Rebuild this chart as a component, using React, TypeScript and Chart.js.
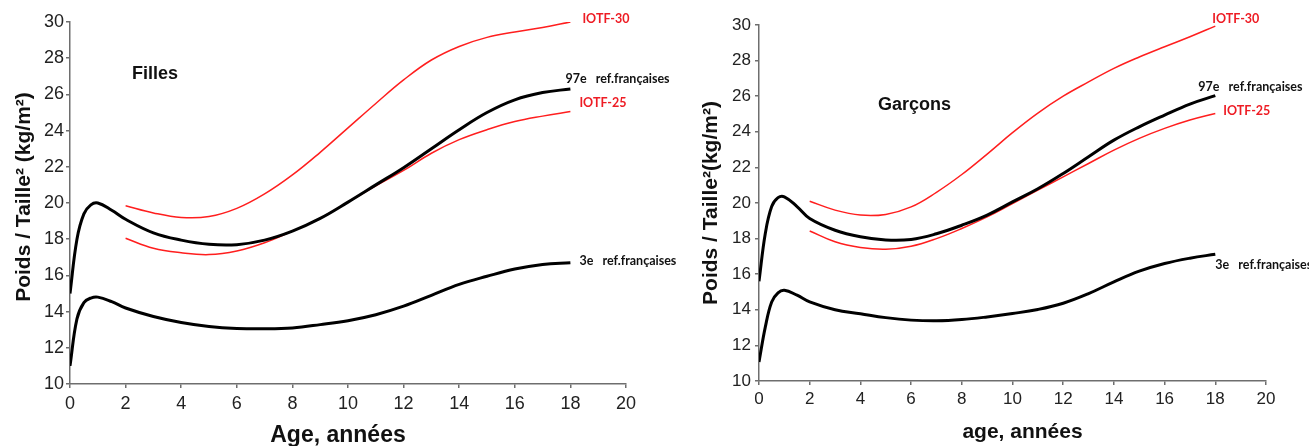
import React, { useEffect, useRef } from "react";
import { Chart, registerables } from "chart.js";

Chart.register(...registerables);

// ---- data ----
const agesRef = [0, 0.25, 0.5, 0.75, 1, 1.5, 2, 3, 4, 5, 6, 7, 8, 9, 10, 11, 12, 13, 14, 15, 16, 17, 18];
const agesIotf = [2, 3, 4, 5, 6, 7, 8, 9, 10, 11, 12, 13, 14, 15, 16, 17, 18];

const fillesP97 = [15.0, 18.0, 19.4, 19.9, 20.0, 19.6, 19.1, 18.35, 17.95, 17.72, 17.7, 17.95, 18.45, 19.15, 20.05, 21.0, 21.95, 23.0, 24.05, 25.0, 25.7, 26.1, 26.3];
const fillesP3 = [11.0, 13.6, 14.5, 14.75, 14.8, 14.55, 14.2, 13.73, 13.4, 13.18, 13.07, 13.05, 13.1, 13.28, 13.5, 13.83, 14.3, 14.9, 15.5, 15.95, 16.35, 16.6, 16.7];
const fillesIotf30 = [19.85, 19.45, 19.2, 19.25, 19.7, 20.5, 21.55, 22.8, 24.15, 25.5, 26.8, 27.9, 28.65, 29.15, 29.45, 29.7, 30.0];
const fillesIotf25 = [18.05, 17.5, 17.25, 17.15, 17.35, 17.8, 18.45, 19.15, 20.05, 20.95, 21.8, 22.75, 23.5, 24.05, 24.5, 24.8, 25.05];

const garconsP97 = [15.6, 18.3, 19.8, 20.3, 20.35, 19.8, 19.13, 18.47, 18.1, 17.92, 17.95, 18.27, 18.75, 19.32, 20.06, 20.8, 21.66, 22.6, 23.53, 24.28, 24.94, 25.56, 26.03];
const garconsP3 = [11.07, 13.04, 14.44, 14.95, 15.1, 14.82, 14.44, 14.0, 13.78, 13.56, 13.42, 13.38, 13.45, 13.6, 13.79, 14.02, 14.37, 14.91, 15.57, 16.17, 16.6, 16.9, 17.12];
const garconsIotf30 = [20.1, 19.6, 19.32, 19.36, 19.78, 20.6, 21.6, 22.75, 23.95, 25.05, 26.0, 26.8, 27.56, 28.2, 28.78, 29.34, 29.94];
const garconsIotf25 = [18.43, 17.82, 17.5, 17.4, 17.57, 18.0, 18.57, 19.22, 19.97, 20.72, 21.47, 22.22, 22.97, 23.63, 24.19, 24.66, 25.03];

const seriesLabels = ["IOTF-30", "97e   ref.françaises", "IOTF-25", "3e   ref.françaises"];
const xMin = 0, xMax = 20, xStep = 2;
const yMin = 10, yMax = 30, yStep = 2;

const RED = "#ff1e1e";
const BLACK = "#000000";

const toPoints = (xs: number[], ys: number[]) => xs.map((x, i) => ({ x, y: ys[i] }));

type PanelSpec = {
  title: string;
  titleDx: number;
  titleY: number;
  titleSize: number;
  yTitle: string;
  yTitleX: number;
  yTitleDy: number;
  yTitleSize: number;
  xTitle: string;
  xTitleDx: number;
  xTitleY: number;
  xTitleSize: number;
  labelOffsets: number[][];
  tickSize: number;
  yAxisWidth: number;
  xAxisHeight: number;
  pad: { top: number; right: number };
  yTickPad: number;
  xTickPad: number;
  series: number[][];
};

const makeTextPlugin = (spec: PanelSpec) => ({
  id: "panelTexts",
  afterDraw(chart: any) {
    const ctx = chart.ctx as CanvasRenderingContext2D;
    const a = chart.chartArea;
    const xs = chart.scales.x;
    const ys = chart.scales.y;
    ctx.save();
    chart.data.datasets.forEach((ds: any, i: number) => {
      const last = ds.data[ds.data.length - 1];
      const px = xs.getPixelForValue(last.x);
      const py = ys.getPixelForValue(last.y);
      const off = spec.labelOffsets[i];
      ctx.font = 'bold 12.5px Lato, "Open Sans", sans-serif';
      ctx.fillStyle = ds.borderColor === RED ? "#ee1c24" : "#111";
      ctx.textAlign = "left";
      ctx.textBaseline = "middle";
      ctx.fillText(ds.label, px + off[0], py + off[1]);
    });
    // panel title
    ctx.fillStyle = "#111";
    ctx.font = `bold ${spec.titleSize}px "Liberation Sans", Arial, sans-serif`;
    ctx.textAlign = "left";
    ctx.textBaseline = "middle";
    ctx.fillText(spec.title, a.left + spec.titleDx, spec.titleY);
    // x title
    ctx.font = `bold ${spec.xTitleSize}px "Liberation Sans", Arial, sans-serif`;
    ctx.textAlign = "center";
    ctx.fillText(spec.xTitle, (a.left + a.right) / 2 + spec.xTitleDx, spec.xTitleY);
    // y title
    ctx.translate(spec.yTitleX, (a.top + a.bottom) / 2 + spec.yTitleDy);
    ctx.rotate(-Math.PI / 2);
    ctx.font = `bold ${spec.yTitleSize}px "Liberation Sans", Arial, sans-serif`;
    ctx.fillText(spec.yTitle, 0, 0);
    ctx.restore();
  },
});

const buildChart = (canvas: HTMLCanvasElement, spec: PanelSpec) => {
  const [iotf30, p97, iotf25, p3] = spec.series;
  const datasets = [
    { label: seriesLabels[0], data: toPoints(agesIotf, iotf30), borderColor: RED, borderWidth: 1.5 },
    { label: seriesLabels[1], data: toPoints(agesRef, p97), borderColor: BLACK, borderWidth: 3 },
    { label: seriesLabels[2], data: toPoints(agesIotf, iotf25), borderColor: RED, borderWidth: 1.5 },
    { label: seriesLabels[3], data: toPoints(agesRef, p3), borderColor: BLACK, borderWidth: 3 },
  ].map((d) => ({ ...d, pointRadius: 0, fill: false, tension: 0.4 }));

  const tickFont = { family: '"Liberation Sans", Arial, sans-serif', size: spec.tickSize };
  const axisColor = "#6e6e6e";

  return new Chart(canvas, {
    type: "line",
    data: { datasets },
    plugins: [makeTextPlugin(spec)],
    options: {
      animation: false,
      responsive: false,
      devicePixelRatio: 1,
      layout: { padding: { top: spec.pad.top, right: spec.pad.right, left: 0, bottom: 0 } },
      plugins: { legend: { display: false }, tooltip: { enabled: false }, title: { display: false } },
      scales: {
        x: {
          type: "linear",
          min: xMin,
          max: xMax,
          ticks: { stepSize: xStep, color: "#222", font: tickFont, padding: spec.xTickPad, maxRotation: 0 },
          grid: { display: true, drawOnChartArea: false, drawTicks: true, tickLength: 4, color: axisColor, lineWidth: 1.5 },
          border: { display: true, color: axisColor, width: 1.5 },
          afterFit: (s: any) => { s.height = spec.xAxisHeight; },
        },
        y: {
          type: "linear",
          min: yMin,
          max: yMax,
          ticks: { stepSize: yStep, color: "#222", font: tickFont, padding: spec.yTickPad },
          grid: { display: true, drawOnChartArea: false, drawTicks: true, tickLength: 4, color: axisColor, lineWidth: 1.5 },
          border: { display: true, color: axisColor, width: 1.5 },
          afterFit: (s: any) => { s.width = spec.yAxisWidth; },
        },
      },
    },
  });
};

const fillesSpec: PanelSpec = {
  title: "Filles",
  titleDx: 62,
  titleY: 74,
  titleSize: 18,
  yTitle: "Poids / Taille² (kg/m²)",
  yTitleX: 24,
  yTitleDy: -6,
  yTitleSize: 21,
  xTitle: "Age, années",
  xTitleDx: -10,
  xTitleY: 436,
  xTitleSize: 23,
  labelOffsets: [[12, -3.5], [-5, -10], [9, -9], [9, -2]],
  tickSize: 18,
  yAxisWidth: 70,
  xAxisHeight: 62,
  pad: { top: 22, right: 74 },
  yTickPad: 2,
  xTickPad: 5,
  series: [fillesIotf30, fillesP97, fillesIotf25, fillesP3],
};

const garconsSpec: PanelSpec = {
  title: "Garçons",
  titleDx: 119,
  titleY: 105,
  titleSize: 18,
  yTitle: "Poids / Taille²(kg/m²)",
  yTitleX: 56,
  yTitleDy: 0,
  yTitleSize: 21,
  xTitle: "age, années",
  xTitleDx: 10,
  xTitleY: 432,
  xTitleSize: 21,
  labelOffsets: [[-3, -7], [-17, -9], [8, -2], [0, 11]],
  tickSize: 17,
  yAxisWidth: 104,
  xAxisHeight: 65,
  pad: { top: 25, right: 43 },
  yTickPad: 4,
  xTickPad: 4,
  series: [garconsIotf30, garconsP97, garconsIotf25, garconsP3],
};

export default function App() {
  const leftRef = useRef<HTMLCanvasElement | null>(null);
  const rightRef = useRef<HTMLCanvasElement | null>(null);

  useEffect(() => {
    const c1 = buildChart(leftRef.current!, fillesSpec);
    const c2 = buildChart(rightRef.current!, garconsSpec);
    return () => {
      c1.destroy();
      c2.destroy();
    };
  }, []);

  return (
    <div style={{ position: "fixed", left: 0, top: 0, width: 1309, height: 446, background: "#fff" }}>
      <canvas ref={leftRef} width={700} height={446} style={{ position: "absolute", left: 0, top: 0, width: 700, height: 446 }} />
      <canvas ref={rightRef} width={654} height={446} style={{ position: "absolute", left: 655, top: 0, width: 654, height: 446 }} />
    </div>
  );
}
